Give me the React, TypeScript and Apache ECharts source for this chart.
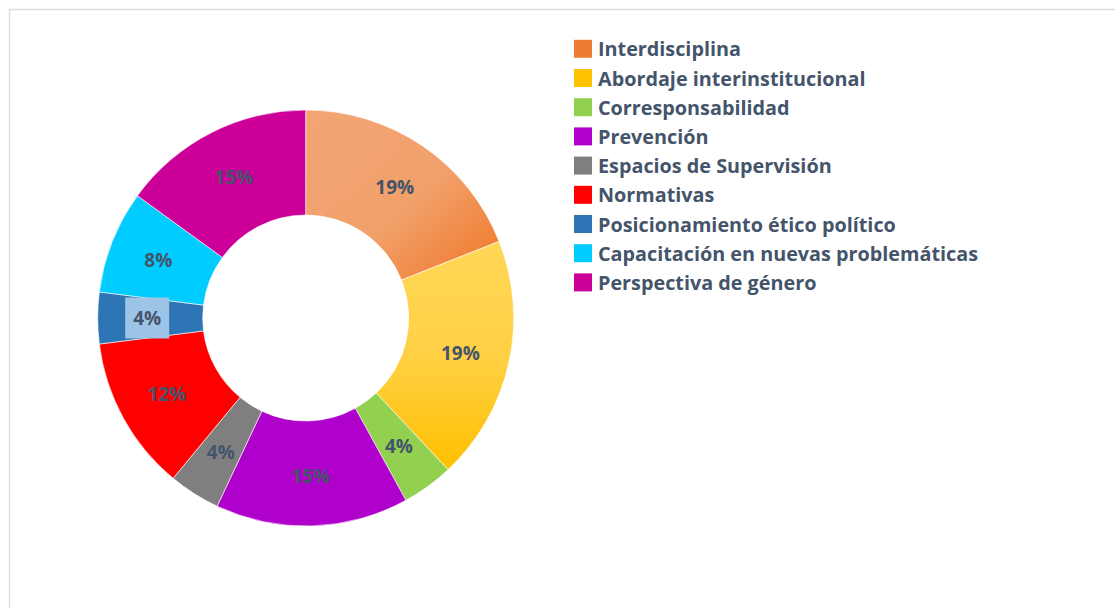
import React, { useEffect, useRef } from "react";
import * as echarts from "echarts";

const categories = [
  "Interdisciplina",
  "Abordaje interinstitucional",
  "Corresponsabilidad",
  "Prevención",
  "Espacios de Supervisión",
  "Normativas",
  "Posicionamiento ético político",
  "Capacitación en nuevas problemáticas",
  "Perspectiva de género",
];
const percentValues = [19, 19, 4, 15, 4, 12, 4, 8, 15];
const solidColors = [
  "#EF7D31",
  "#FFC000",
  "#92D050",
  "#B000CC",
  "#7F7F7F",
  "#FF0000",
  "#2E75B6",
  "#00CCFF",
  "#CC0099",
];

const TEXT = "#44546A";
const FONT = "'Open Sans', 'Noto Sans', sans-serif";

export default function App() {
  const ref = useRef<HTMLDivElement>(null);
  useEffect(() => {
    if (!ref.current) return;
    const chart = echarts.init(ref.current, undefined, { renderer: "svg" });
    const fills: any[] = solidColors.slice();
    fills[0] = new echarts.graphic.LinearGradient(0, 0, 1, 1, [
      { offset: 0, color: "#F2A675" },
      { offset: 0.55, color: "#F1A06A" },
      { offset: 1, color: "#F07524" },
    ]);
    fills[1] = new echarts.graphic.LinearGradient(0, 0, 0, 1, [
      { offset: 0, color: "#FFD757" },
      { offset: 0.5, color: "#FFD044" },
      { offset: 1, color: "#FFC000" },
    ]);
    const data = categories.map((name, i) => {
      const item: any = {
        name,
        value: percentValues[i],
        itemStyle: { color: fills[i] },
      };
      if (i === 6) {
        item.label = {
          backgroundColor: "#9DC3E6",
          padding: [11, 8, 11, 8],
        };
      }
      return item;
    });
    chart.setOption({
      animation: false,
      backgroundColor: "#FFFFFF",
      graphic: [
        {
          type: "rect",
          shape: { x: 9.5, y: 9.5, width: 1200, height: 700 },
          style: { fill: "none", stroke: "#DEDEDE", lineWidth: 1.5 },
          silent: true,
        },
      ],
      legend: {
        orient: "vertical",
        left: 574,
        top: 38.8,
        padding: 0,
        itemWidth: 18,
        itemHeight: 18,
        itemGap: 9.2,
        icon: "rect",
        itemStyle: { borderWidth: 0 },
        data: categories.map((name, i) => ({
          name,
          itemStyle: { color: solidColors[i], borderWidth: 0 },
        })),
        textStyle: {
          color: TEXT,
          fontFamily: FONT,
          fontSize: 19.8,
          fontWeight: 700,
          padding: [0, 0, 0, 1],
        },
      },
      series: [
        {
          type: "pie",
          center: [305.7, 318],
          radius: [103, 208],
          startAngle: 90,
          clockwise: true,
          avoidLabelOverlap: false,
          percentPrecision: 0,
          label: {
            show: true,
            position: "inside",
            formatter: "{c}%",
            color: TEXT,
            fontFamily: FONT,
            fontSize: 19,
            fontWeight: 700,
            lineHeight: 19,
          },
          labelLine: { show: false },
          emphasis: { disabled: true },
          itemStyle: { borderWidth: 0.6, borderColor: "#FFFFFF" },
          data,
        },
      ],
    });
    return () => chart.dispose();
  }, []);
  return (
    <div
      ref={ref}
      style={{ position: "fixed", left: 0, top: 0, width: 1115, height: 608 }}
    />
  );
}
